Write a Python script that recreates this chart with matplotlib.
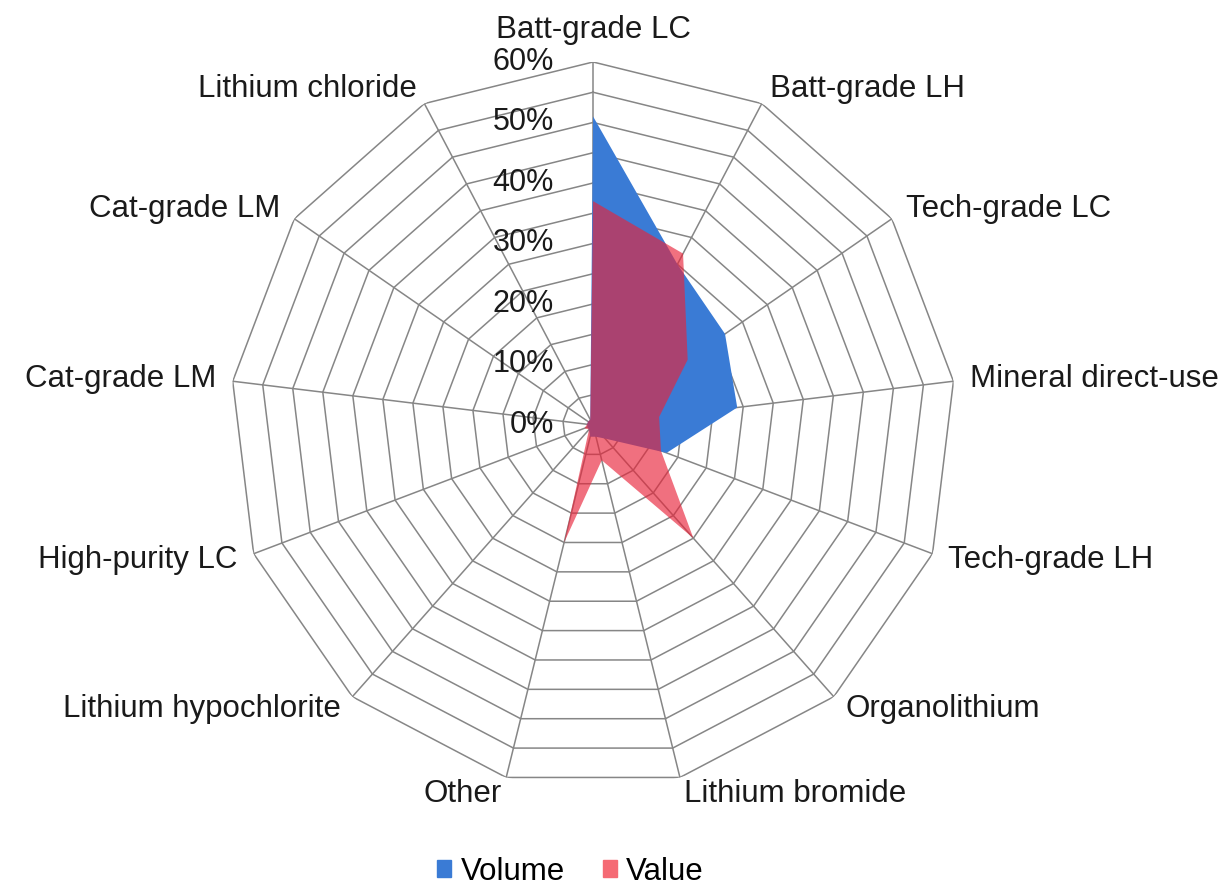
import numpy as np
import matplotlib.pyplot as plt
from matplotlib.patches import Patch
from matplotlib.transforms import ScaledTranslation

plt.rcParams['font.family'] = ['Liberation Sans', 'DejaVu Sans']

categories = ["Batt-grade LC", "Batt-grade LH", "Tech-grade LC", "Mineral direct-use",
              "Tech-grade LH", "Organolithium", "Lithium bromide", "Other",
              "Lithium hypochlorite", "High-purity LC", "Cat-grade LM", "Cat-grade LM",
              "Lithium chloride"]
volume = [51, 30, 26.5, 24, 13, 3, 2, 2, 1, 1, 1, 1, 1]
value = [37, 32, 19, 11, 12, 25, 6, 20, 1, 1.5, 1, 1, 1]
ring_levels = np.arange(0, 61, 5)
tick_levels = [0, 10, 20, 30, 40, 50, 60]

n = len(categories)
theta = np.arange(n) * 2 * np.pi / n
txt_col = '#1a1a1a'

fig = plt.figure(figsize=(12.27, 8.88), dpi=100)
ax = fig.add_axes([0.1875, 0.1126, 0.5917, 0.8176], projection='polar')
ax.set_theta_zero_location('N')
ax.set_theta_direction(-1)
ax.set_ylim(0, 60)
ax.grid(False)
ax.spines['polar'].set_visible(False)
ax.set_xticks([])
ax.set_yticks([])

grid_col = '#868686'
closed = np.append(theta, theta[0])
for r in ring_levels[1:]:
    ax.plot(closed, [r] * (n + 1), color=grid_col, lw=1.1, zorder=1)
for t in theta:
    ax.plot([t, t], [0, 60], color=grid_col, lw=1.1, zorder=1)

ax.fill(closed, volume + volume[:1], color='#3a7bd5', zorder=2, lw=0)
ax.fill(closed, value + value[:1], color='#e8243a', alpha=0.65, zorder=3, lw=0)

# radial tick labels
off = ax.transData + ScaledTranslation(-0.39, 0, fig.dpi_scale_trans)
for r in tick_levels:
    ax.text(0, r, f"{r}%", transform=off, ha='right', va='center', fontsize=22, color=txt_col)

# category labels
for t, lab in zip(theta, categories):
    s, c = np.sin(t), np.cos(t)
    ha = 'left' if s > 0.15 else ('right' if s < -0.15 else 'center')
    va = 'bottom' if c > 0.95 else 'center'
    ax.text(t, 62.8, lab, ha=ha, va=va, fontsize=22.5, color=txt_col)

handles = [Patch(color='#3a7bd5', label='Volume'), Patch(color='#f56a74', label='Value')]
fig.legend(handles=handles, loc='center', bbox_to_anchor=(0.465, 0.018), ncol=2,
           frameon=False, fontsize=22.5, handlelength=0.45, handleheight=0.45,
           handletextpad=0.3, columnspacing=1.2)

fig.savefig('out.png', dpi=100)
